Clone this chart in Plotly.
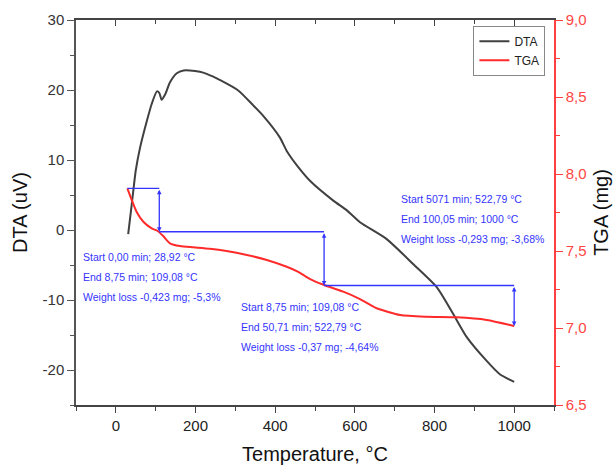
import plotly.graph_objects as go

# ---- data ----
dta_T = [31, 40, 50, 61, 78, 90, 103, 109, 115, 124, 136, 153, 170, 186, 211, 228, 262, 308,
         345, 370, 412, 429, 462, 488, 546, 580, 613, 680, 747, 806, 847, 881, 931, 964, 1000]
dta_v = [-0.6, 3.7, 8.5, 11.8, 15.6, 18.0, 19.8, 19.6, 18.6, 19.4, 21.1, 22.4, 22.8, 22.8, 22.6,
         22.3, 21.4, 19.9, 17.8, 16.3, 13.2, 11.3, 8.7, 7.0, 4.2, 2.8, 1.1, -1.3, -4.9, -8.2,
         -12.0, -15.3, -18.7, -20.6, -21.7]

tga_T = [29, 40, 52, 69, 90, 105, 119, 136, 161, 195, 236, 278, 329, 379, 429, 458, 488, 523,
         571, 613, 655, 714, 780, 856, 931, 1000]
tga_m = [7.907, 7.831, 7.755, 7.690, 7.647, 7.630, 7.597, 7.550, 7.532, 7.524, 7.515, 7.500,
         7.474, 7.442, 7.398, 7.365, 7.318, 7.279, 7.236, 7.188, 7.128, 7.084, 7.073, 7.069,
         7.052, 7.013]

step_T = [28.92, 109.08, 522.79, 1000]
step_m = [7.907, 7.625, 7.276, 7.013]

dta_ticks = [-20, -10, 0, 10, 20, 30]
dta_ticktext = ["-20", "-10", "0", "10", "20", "30"]
x_ticks = [0, 200, 400, 600, 800, 1000]

block_texts = [
    ["Start 0,00 min; 28,92 °C", "End 8,75 min; 109,08 °C", "Weight loss -0,423 mg; -5,3%"],
    ["Start 8,75 min; 109,08 °C", "End 50,71 min; 522,79 °C", "Weight loss -0,37 mg; -4,64%"],
    ["Start 5071 min; 522,79 °C", "End 100,05 min; 1000 °C", "Weight loss -0,293 mg; -3,68%"],
]
# anchor (x in °C, first-line y in DTA units) for each text block
block_x = [-87, 309, 712]
block_y = [-3.8, -11.05, 4.45]
line_step = 2.86

FONT = "Liberation Sans, Arial, sans-serif"
BLUE = "#3434ff"
RED = "#ff2a2a"
DARK = "#404040"

fig = go.Figure()
fig.add_trace(go.Scatter(x=dta_T, y=dta_v, mode="lines", name="DTA",
                         line=dict(color=DARK, width=2, shape="spline", smoothing=0.6)))
fig.add_trace(go.Scatter(x=tga_T, y=tga_m, mode="lines", name="TGA", yaxis="y2",
                         line=dict(color=RED, width=2, shape="spline", smoothing=0.6)))

# horizontal segments of the step construction
for i in range(len(step_T) - 1):
    fig.add_trace(go.Scatter(x=[step_T[i], step_T[i + 1]], y=[step_m[i], step_m[i]],
                             mode="lines", yaxis="y2", showlegend=False,
                             line=dict(color=BLUE, width=1.3), hoverinfo="skip"))
# invisible trace for top mirror axis
fig.add_trace(go.Scatter(x=[0], y=[0], xaxis="x2", mode="markers", showlegend=False,
                         marker=dict(opacity=0), hoverinfo="skip"))

annotations = []
# vertical double arrows
for i in range(len(step_T) - 1):
    annotations.append(dict(x=step_T[i + 1], y=step_m[i + 1], ax=step_T[i + 1], ay=step_m[i],
                            xref="x", yref="y2", axref="x", ayref="y2", text="",
                            showarrow=True, arrowhead=2, startarrowhead=2,
                            arrowside="end+start", arrowsize=0.7, startarrowsize=0.7,
                            arrowwidth=1.3, arrowcolor=BLUE, standoff=0, startstandoff=0))
for bx, by, lines in zip(block_x, block_y, block_texts):
    for k, t in enumerate(lines):
        annotations.append(dict(x=bx, y=by - k * line_step, xref="x", yref="y", text=t,
                                showarrow=False, xanchor="left", yanchor="middle",
                                font=dict(family=FONT, size=10.5, color=BLUE)))

minor_x = [-100, 100, 300, 500, 700, 900, 1100]

fig.update_layout(
    width=614, height=465,
    margin=dict(l=76, r=60, t=20, b=60, autoexpand=False),
    paper_bgcolor="white", plot_bgcolor="white",
    separators=", ",
    font=dict(family=FONT, size=15, color="#333333"),
    showlegend=True,
    legend=dict(x=0.982, y=0.985, xanchor="right", yanchor="top",
                bordercolor="#888888", borderwidth=1, bgcolor="white",
                font=dict(family=FONT, size=12, color="#222222"),
                tracegroupgap=0, itemwidth=30),
    xaxis=dict(range=[-100, 1100], tickmode="array", tickvals=x_ticks,
               ticks="outside", ticklen=6, tickwidth=1.2, tickcolor="#444",
               showline=True, linecolor="#444", linewidth=1.5,
               showgrid=False, zeroline=False, automargin=False,
               minor=dict(tickmode="array", tickvals=minor_x, ticks="outside",
                          ticklen=4, tickwidth=1.2, tickcolor="#444", showgrid=False),
               tickfont=dict(size=15, color="#222"),
               title=dict(text="Temperature, °C", font=dict(size=20, color="#111"), standoff=23)),
    xaxis2=dict(range=[-100, 1100], overlaying="x", side="top", anchor="y",
                tickmode="array", tickvals=x_ticks, ticks="inside", ticklen=6,
                tickwidth=1.2, tickcolor="#444", showticklabels=False, automargin=False,
                showline=True, linecolor="#444", linewidth=1.5, showgrid=False, zeroline=False,
                minor=dict(tickmode="array", tickvals=minor_x, ticks="inside",
                           ticklen=4, tickwidth=1.2, tickcolor="#444", showgrid=False)),
    yaxis=dict(range=[-25, 30], tickmode="array", tickvals=dta_ticks, ticktext=dta_ticktext,
               ticks="outside", ticklen=7, tickwidth=1.2, automargin=False,
               tickcolor="#555", showline=True, linecolor="#555", linewidth=1.5,
               showgrid=False, zeroline=False,
               minor=dict(tickmode="array", tickvals=[-25, -15, -5, 5, 15, 25], ticks="outside",
                          ticklen=4, tickwidth=1.2, tickcolor="#555", showgrid=False),
               tickfont=dict(size=15, color="#333"),
               title=dict(text="DTA (uV)", font=dict(size=20, color="#111"), standoff=10)),
    yaxis2=dict(range=[6.5, 9.0], dtick=0.5, tick0=6.5, tickformat=".1f", overlaying="y",
                side="right", anchor="x", ticks="outside", ticklen=7, tickwidth=1.2,
                tickcolor="#ff4040", showline=True, linecolor="#ff4040", linewidth=1.5,
                showgrid=False, zeroline=False, automargin=False,
                minor=dict(dtick=0.25, tick0=6.5, ticks="outside", ticklen=4, tickwidth=1.2,
                           tickcolor="#ff4040", showgrid=False),
                tickfont=dict(size=15, color="#ff4545"),
                title=dict(text="TGA (mg)", font=dict(size=20, color="#111"), standoff=8)),
    annotations=annotations,
)

fig.write_html("out.html")
